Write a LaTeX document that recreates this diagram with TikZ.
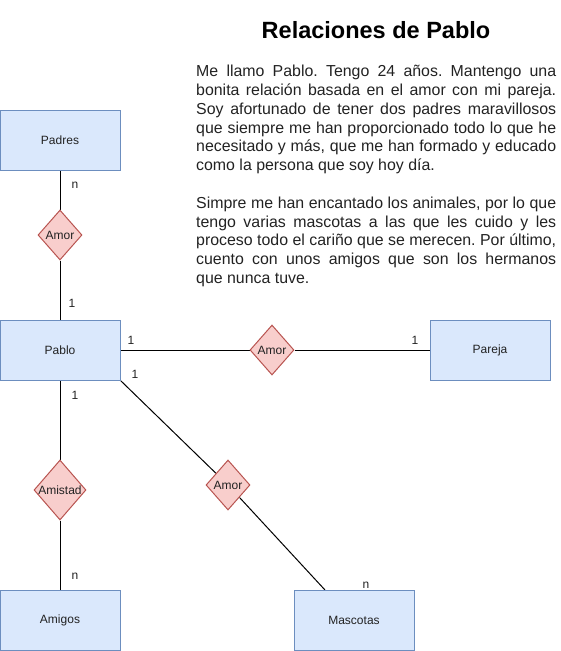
\documentclass[tikz,border=0pt]{standalone}
\usepackage{fontspec}
\setmainfont{Liberation Sans}
\usetikzlibrary{shapes.geometric, positioning, backgrounds}

\definecolor{entfondo}{HTML}{DAE8FC}
\definecolor{entborde}{HTML}{6C8EBF}
\definecolor{relfondo}{HTML}{F8CECC}
\definecolor{relborde}{HTML}{B85450}
\definecolor{texto}{HTML}{222222}

\begin{document}
\frenchspacing
\begin{tikzpicture}[x=1pt,y=-1pt,
    entidad/.style={rectangle,draw=entborde,fill=entfondo,line width=1pt,minimum width=120pt,minimum height=60pt,inner sep=0pt,font=\fontsize{12}{14}\selectfont,text=texto},
    relacion/.style={diamond,draw=relborde,fill=relfondo,line width=1pt,minimum width=44pt,minimum height=50pt,inner sep=0pt},
    rtexto/.style={font=\fontsize{12}{14}\selectfont,text=texto,inner sep=0pt},
    card/.style={font=\fontsize{12}{14}\selectfont,text=texto,inner sep=0pt},
    linea/.style={draw=black,line width=1pt}]
    \useasboundingbox (0,0) rectangle (561,651);

    % Titulo y texto
    \node[font=\bfseries\fontsize{23.5}{28}\selectfont,text=black] (titulo) at (376,30) {Relaciones de Pablo};
    \node[anchor=north west,inner sep=0pt,text width=360pt,align=justify,font=\fontsize{15.9}{18.8}\selectfont,text=texto] (historia) at (196,65) {
        Me llamo Pablo. Tengo 24 años. Mantengo una\linebreak
        bonita relación basada en el amor con mi pareja.\linebreak
        Soy afortunado de tener dos padres maravillosos\linebreak
        que siempre me han proporcionado todo lo que he\linebreak
        necesitado y más, que me han formado y educado\linebreak
        como la persona que soy hoy día.\\[18.8pt]
        Simpre me han encantado los animales, por lo que\linebreak
        tengo varias mascotas a las que les cuido y les\linebreak
        proceso todo el cariño que se merecen. Por último,\linebreak
        cuento con unos amigos que son los hermanos\linebreak
        que nunca tuve.
    };

    % Entidades
    \node[entidad] (padres) at (60,140) {Padres};
    \node[entidad] (pablo) at (60,350) {Pablo};
    \node[entidad] (pareja) at (490,350) {Pareja};
    \node[entidad] (amigos) at (60,620) {Amigos};
    \node[entidad] (mascotas) at (354,620) {Mascotas};

    % Relaciones
    \node[relacion,label={[rtexto]center:Amor}] (amorpadres) at (60,235) {};
    \node[relacion,label={[rtexto]center:Amor}] (amorpareja) at (272,350) {};
    \node[relacion,minimum width=52pt,minimum height=60pt,label={[rtexto]center:Amistad}] (amistad) at (60,490) {};
    \node[relacion,label={[rtexto]center:Amor}] (amormascotas) at (228,485) {};
    \coordinate (finmascotas) at (325,590);

    % Conexiones
    \begin{scope}[on background layer]
        \draw[linea] (padres) -- (amorpadres);
        \draw[linea] (amorpadres) -- (pablo);
        \draw[linea] (pablo) -- (amorpareja);
        \draw[linea] (amorpareja) -- (pareja);
        \draw[linea] (pablo) -- (amistad);
        \draw[linea] (amistad) -- (amigos);
        \draw[linea] (pablo.south east) -- (amormascotas);
        \draw[linea] (amormascotas) -- (finmascotas);
    \end{scope}

    % Cardinalidades
    \node[card] (npadres) at (75,185) {n};
    \node[card] (unopadres) at (72,303) {1};
    \node[card] (unopablo) at (131,340) {1};
    \node[card] (unopareja) at (415,340) {1};
    \node[card] (unomasc) at (135,374) {1};
    \node[card] (unoamigos) at (75,395) {1};
    \node[card] (namigos) at (75,576) {n};
    \node[card] (nmascotas) at (366,585) {n};
\end{tikzpicture}
\end{document}
